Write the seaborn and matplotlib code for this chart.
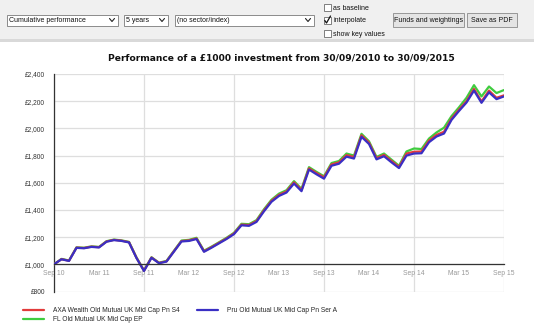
import matplotlib
matplotlib.use("Agg")
import matplotlib.pyplot as plt
from matplotlib.patches import Rectangle
from matplotlib.lines import Line2D
import seaborn as sns
import pandas as pd
import numpy as np

# ---------------- data ----------------
tick_labels = ["Sep 10", "Mar 11", "Sep 11", "Mar 12", "Sep 12", "Mar 13",
               "Sep 13", "Mar 14", "Sep 14", "Mar 15", "Sep 15"]
months = list(range(61))  # monthly points Sep 2010 .. Sep 2015

fund_names = ["AXA Wealth Old Mutual UK Mid Cap Pn S4",
              "FL Old Mutual UK Mid Cap EP",
              "Pru Old Mutual UK Mid Cap Pn Ser A"]

axa = [1000, 1038, 1026, 1123, 1120, 1130, 1126, 1168, 1180, 1174, 1163, 1048,
       953, 1050, 1010, 1022, 1097, 1171, 1176, 1190, 1096, 1126, 1158, 1190,
       1227, 1292, 1289, 1318, 1397, 1467, 1511, 1536, 1603, 1546, 1706, 1671,
       1640, 1735, 1750, 1803, 1789, 1949, 1895, 1781, 1805, 1760, 1716, 1815,
       1828, 1830, 1910, 1952, 1975, 2072, 2138, 2200, 2290, 2198, 2278, 2225,
       2243]
fl = [1000, 1040, 1028, 1125, 1122, 1132, 1128, 1170, 1182, 1176, 1165, 1050,
      955, 1052, 1012, 1025, 1100, 1175, 1180, 1195, 1100, 1130, 1162, 1195,
      1232, 1298, 1295, 1325, 1405, 1475, 1520, 1545, 1612, 1555, 1715, 1680,
      1648, 1745, 1760, 1815, 1800, 1960, 1905, 1790, 1815, 1770, 1725, 1830,
      1852, 1848, 1925, 1970, 2005, 2090, 2155, 2225, 2318, 2235, 2308, 2260,
      2282]
pru = [1000, 1037, 1025, 1121, 1118, 1128, 1124, 1166, 1178, 1172, 1161, 1046,
       951, 1048, 1008, 1020, 1094, 1168, 1172, 1186, 1092, 1122, 1154, 1186,
       1222, 1287, 1283, 1312, 1390, 1460, 1503, 1528, 1594, 1538, 1697, 1662,
       1630, 1725, 1740, 1792, 1778, 1938, 1885, 1772, 1795, 1750, 1708, 1800,
       1815, 1817, 1898, 1940, 1962, 2062, 2128, 2190, 2278, 2188, 2265, 2215,
       2235]

y_ticks = [800, 1000, 1200, 1400, 1600, 1800, 2000, 2200, 2400]

colors = {fund_names[0]: "#e23b3b",
          fund_names[1]: "#3fcc3f",
          fund_names[2]: "#3a2fc4"}

df = pd.concat([
    pd.DataFrame({"month": months, "value": axa, "fund": fund_names[0]}),
    pd.DataFrame({"month": months, "value": fl, "fund": fund_names[1]}),
    pd.DataFrame({"month": months, "value": pru, "fund": fund_names[2]}),
])

# ---------------- figure ----------------
W, H = 534, 334
sns.set_style("white")
plt.rcParams["font.family"] = ["Liberation Sans", "DejaVu Sans"]
fig = plt.figure(figsize=(W / 100, H / 100), dpi=100)
fig.patch.set_facecolor("white")


def px_rect(x0, y0, x1, y1, **kw):
    r = Rectangle((x0 / W, 1 - y1 / H), (x1 - x0) / W, (y1 - y0) / H,
                  transform=fig.transFigure, **kw)
    fig.add_artist(r)
    return r


def px_text(x, y, s, **kw):
    fig.text(x / W, 1 - y / H, s, **kw)


# toolbar
px_rect(0, 0, W, 39, facecolor="#f0f0f0", edgecolor="none")
px_rect(0, 39, W, 42, facecolor="#d9d9d9", edgecolor="none")

ctrl_font = dict(fontsize=5.0, color="#111111", va="center")
for (x0, x1, label) in [(7, 118, "Cumulative performance"),
                        (124, 168, "5 years"),
                        (175, 314, "(no sector/index)")]:
    px_rect(x0, 14.5, x1, 25.5, facecolor="white", edgecolor="#7a7a7a", linewidth=0.6)
    px_text(x0 + 2, 20, label, ha="left", **ctrl_font)
    cx = x1 - 6
    fig.add_artist(Line2D([(cx - 2.5) / W, cx / W, (cx + 2.5) / W],
                          [1 - 18.5 / H, 1 - 21.5 / H, 1 - 18.5 / H],
                          transform=fig.transFigure, color="#222", lw=0.8))

for (yc, label, checked) in [(7.5, "as baseline", False),
                             (20.5, "interpolate", True),
                             (33.5, "show key values", False)]:
    px_rect(323.5, yc - 3.5, 330.5, yc + 3.5, facecolor="white",
            edgecolor="#6a6a6a", linewidth=0.6)
    if checked:
        fig.add_artist(Line2D([324.8 / W, 326.5 / W, 330.5 / W],
                              [1 - (yc) / H, 1 - (yc + 2.5) / H, 1 - (yc - 4.5) / H],
                              transform=fig.transFigure, color="#111", lw=0.9))
    px_text(333, yc + 0.5, label, ha="left", **ctrl_font)

for (x0, x1, label) in [(393, 464, "Funds and weightings"),
                        (467, 517, "Save as PDF")]:
    px_rect(x0, 13, x1, 27, facecolor="#e4e4e4", edgecolor="#8a8a8a", linewidth=0.6)
    px_text((x0 + x1) / 2, 20, label, ha="center", **ctrl_font)

# title
px_text(281, 58, "Performance of a \u00a31000 investment from 30/09/2010 to 30/09/2015",
        ha="center", va="center", fontsize=6.6, fontweight="bold",
        family="DejaVu Sans", color="#111")

# axes
ax_left, ax_right = 54, 504
ax_top, ax_bottom = 74, 291.5
ax = fig.add_axes([ax_left / W, 1 - ax_bottom / H,
                   (ax_right - ax_left) / W, (ax_bottom - ax_top) / H])
ax.set_facecolor("white")

# grid
for yv in y_ticks:
    ax.axhline(yv, color="#dedede", lw=0.9, zorder=0)
tick_pos = [i * 6 for i in range(len(tick_labels))]
for xv in tick_pos[::2]:
    ax.axvline(xv, color="#dedede", lw=0.9, zorder=0)

order = [fund_names[1], fund_names[0], fund_names[2]]
for name in order:
    sns.lineplot(data=df[df["fund"] == name], x="month", y="value",
                 color=colors[name], linewidth=1.6, ax=ax, legend=False,
                 zorder=3)
for ln in ax.get_lines():
    ln.set_solid_joinstyle("round")
    ln.set_solid_capstyle("round")

ax.set_xlim(0, 60)
ax.set_ylim(800, 2400)
ax.set_xlabel("")
ax.set_ylabel("")

for s in ["top", "right"]:
    ax.spines[s].set_visible(False)
ax.spines["left"].set_color("#333333")
ax.spines["left"].set_linewidth(0.9)
ax.spines["bottom"].set_position(("data", 1000))
ax.spines["bottom"].set_color("#333333")
ax.spines["bottom"].set_linewidth(0.9)
ax.spines["bottom"].set_zorder(4)

ax.set_yticks(y_ticks)
ax.set_yticklabels(["\u00a3{:,}".format(v) for v in y_ticks])
ax.set_yticks(np.arange(800, 2401, 40), minor=True)
ax.tick_params(axis="y", which="major", direction="out", length=5.5, width=0.8,
               color="#333", labelsize=4.8, labelcolor="#333", pad=1)
ax.tick_params(axis="y", which="minor", direction="out", length=3.5, width=0.8,
               color="#333")

ax.set_xticks(tick_pos)
ax.set_xticklabels(tick_labels)
ax.tick_params(axis="x", which="major", direction="inout", length=5, width=0.8,
               color="#333", labelsize=4.9, labelcolor="#999999", pad=1.5)

# legend
handles = [Line2D([], [], color=colors[fund_names[0]], lw=1.6),
           Line2D([], [], color=colors[fund_names[1]], lw=1.6),
           Line2D([], [], color=colors[fund_names[2]], lw=1.6)]
fig.legend(handles, fund_names, ncol=2, loc="upper left",
           bbox_to_anchor=(23 / W, 1 - 307 / H), frameon=False,
           fontsize=4.8, handlelength=3.2, handletextpad=1.3,
           columnspacing=2.6, labelspacing=0.35, borderaxespad=0,
           borderpad=0)

fig.savefig("out.png", dpi=100)
